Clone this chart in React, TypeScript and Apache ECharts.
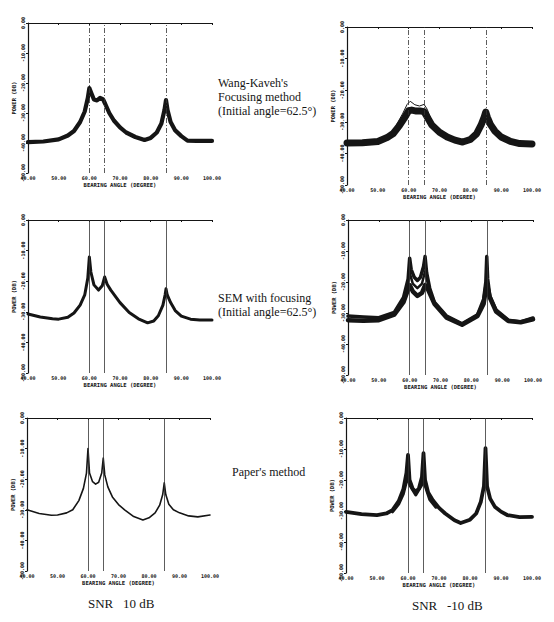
import React, { useEffect, useRef } from "react";
import * as echarts from "echarts";

// Source bearings (degrees) shown as vertical reference lines
const sourceAngles = [60, 65, 85];
const angleMin = 40;
const angleMax = 100;
const powerMin = -50;
const powerMax = 0;

// Wang-Kaveh's focusing method, SNR 10 dB
const wangKaveh10: [number, number][] = [
  [40, -39.7], [45, -39.5], [50, -38.8], [53, -37.5], [55, -36], [57, -33], [58.5, -29.5],
  [59.5, -25], [60, -21.7], [60.7, -23.5], [61.5, -25.5], [62.5, -25.8], [63.5, -25],
  [64.5, -25.5], [65.2, -27], [66.5, -30], [68, -32.5], [70, -34.8], [72, -36.5], [75, -38],
  [78, -39], [80, -38.3], [82, -36.5], [83.5, -33.5], [84.5, -29], [85, -25.7], [85.5, -29],
  [86.5, -33], [88, -35.8], [90, -37.7], [92, -39.2], [95, -39.3], [100, -39.3],
];

// Wang-Kaveh's focusing method, SNR -10 dB (bundle centre and an outlier run)
const wangKavehM10: [number, number][] = [
  [40, -36.7], [45, -36.6], [50, -36.2], [53, -35], [55, -33.7], [57, -31.2], [58.5, -29],
  [60, -26.5], [61, -26.3], [62.5, -26.6], [64, -26.6], [65, -26.8], [66, -28.5], [67.5, -31],
  [70, -33.3], [72.5, -34.8], [75, -35.8], [77.5, -36.4], [80, -35.6], [82, -33.8],
  [83.5, -31], [84.5, -28.5], [85, -26.9], [85.5, -28.5], [86.5, -30.8], [88, -33], [90, -34.8],
  [93, -36.2], [96, -36.9], [100, -37],
];
const wangKavehM10Outlier: [number, number][] = [
  [56, -31], [58, -27.5], [59.5, -24.5], [60.5, -23.5], [62, -24.6], [63.5, -25], [65, -24.5],
  [66, -26], [67, -28.5], [68.5, -31.5],
];

// SEM with focusing, SNR 10 dB
const sem10: [number, number][] = [
  [40, -30.7], [44, -31.7], [48, -32.3], [50, -32.4], [53, -31.8], [55, -30.4], [57, -27.8],
  [58.5, -24.5], [59.5, -19], [60, -12.1], [60.5, -17], [61.5, -21.2], [63, -22.9],
  [64.2, -21.5], [65, -18.6], [65.8, -21], [67, -22.9], [70, -27], [73, -30.2], [76, -32.3],
  [79, -33.6], [81, -33], [82.5, -31.3], [84, -27.8], [84.7, -24.5], [85, -22.5], [85.4, -24.5],
  [86.5, -27], [88, -29.6], [90, -31.4], [93, -32.4], [96, -32.7], [100, -32.7],
];

// SEM with focusing, SNR -10 dB (sharp-peaked runs and flat runs)
const semM10High: [number, number][] = [
  [40, -31], [45, -31.3], [50, -31.5], [55, -29.8], [58, -25], [59.5, -19], [60, -12.3],
  [60.5, -16], [61.5, -18.5], [62.5, -19.5], [63.5, -18.5], [64.5, -15], [65, -11.8],
  [65.5, -17], [66.5, -22], [68, -26.5], [72, -31], [77, -33.5], [82, -30.6], [84, -25.5],
  [84.7, -20], [85, -11.8], [85.3, -19], [86, -24.5], [88, -29], [92, -32.3], [96, -32.9],
  [100, -31.6],
];
const semM10Low: [number, number][] = [
  [40, -32.3], [45, -32.5], [50, -32.3], [55, -30.5], [58, -26.5], [60, -21], [61, -23],
  [62.5, -24.5], [64, -23.5], [65, -21], [66, -22.5], [68, -27], [72, -31.5], [77, -33.8],
  [82, -31], [84, -27], [85, -20.5], [86, -25], [88, -29.5], [92, -32.6], [96, -33], [100, -32],
];
const semM10Mid: [number, number][] = [
  [57, -27.5], [59, -22.5], [60, -17], [61, -20.5], [62.5, -22], [64, -20.5], [65, -16.5],
  [66, -21], [67.5, -25.5],
];

// Paper's method, SNR 10 dB
const paper10: [number, number][] = [
  [40, -30], [44, -31.2], [48, -31.8], [50, -31.7], [53, -31], [55, -30], [57, -27],
  [58.5, -23], [59.5, -18], [60, -10], [60.5, -18], [61.5, -20.8], [62.5, -21.6], [63.5, -21],
  [64.5, -18], [65, -13.1], [65.5, -18.6], [66.5, -22.5], [68, -25.8], [70, -28.3], [72, -30],
  [75, -32.2], [78, -33.3], [80, -32.6], [82, -31], [83.5, -28.5], [84.5, -25], [85, -21.2],
  [85.5, -25], [86.5, -28.2], [88, -30], [90, -31], [93, -32], [96, -32.3], [100, -31.7],
];

// Paper's method, SNR -10 dB
const paperM10: [number, number][] = [
  [40, -30.3], [45, -31], [50, -31.3], [53, -30.8], [55, -29.7], [57, -26.8], [58.5, -23],
  [59.5, -17.7], [60, -11.9], [60.5, -20], [61.5, -22.8], [62.5, -23.8], [63.5, -22.8],
  [64.5, -19], [65, -11.3], [65.5, -20], [66.5, -24], [68, -26.5], [70, -29], [72, -30.8],
  [75, -33], [77, -33.9], [80, -32.8], [82, -30.8], [83.5, -27], [84.5, -22], [85, -9.7],
  [85.5, -22], [86.5, -26], [88, -28.6], [90, -30.2], [92, -31.3], [96, -32], [100, -31.9],
];
const paperM10Low: [number, number][] = [
  [55, -30.3], [57, -27.8], [58.5, -24.5], [59.5, -20.5], [60, -17.5], [60.5, -21.5],
  [62.5, -24.8], [64.5, -21.5], [65, -17], [65.5, -21.8], [67, -26.3], [69, -28.8],
];

const INK = "#151515";

type Panel = {
  left: number; top: number; width: number; height: number;
  dashed: boolean;
  lines: { data: [number, number][]; width: number }[];
};

const panels: Panel[] = [
  { left: 28, top: 23, width: 184, height: 150, dashed: true, lines: [{ data: wangKaveh10, width: 4.2 }] },
  { left: 347, top: 27, width: 185, height: 158, dashed: true, lines: [{ data: wangKavehM10, width: 7 }, { data: wangKavehM10Outlier, width: 1 }] },
  { left: 28, top: 220, width: 184, height: 153, dashed: false, lines: [{ data: sem10, width: 3 }] },
  { left: 348, top: 220, width: 185, height: 155, dashed: false, lines: [{ data: semM10Low, width: 4.5 }, { data: semM10High, width: 3.5 }, { data: semM10Mid, width: 2.5 }] },
  { left: 27, top: 418, width: 183, height: 153, dashed: false, lines: [{ data: paper10, width: 1.6 }] },
  { left: 346, top: 418, width: 186, height: 155, dashed: false, lines: [{ data: paperM10, width: 3.8 }, { data: paperM10Low, width: 3 }] },
];

const tickFont = { fontSize: 5, fontWeight: "bold" as const, fontFamily: "DejaVu Sans Mono", color: INK };

export default function App() {
  const ref = useRef<HTMLDivElement>(null);
  useEffect(() => {
    if (!ref.current) return;
    const chart = echarts.init(ref.current, null, { renderer: "svg" });

    const grids = panels.map((p) => ({ left: p.left, top: p.top, width: p.width, height: p.height }));
    const xAxes = panels.map((_, i) => ({
      type: "value" as const,
      gridIndex: i,
      min: angleMin,
      max: angleMax,
      interval: 10,
      name: "BEARING ANGLE (DEGREE)",
      nameLocation: "middle" as const,
      nameGap: 9,
      nameTextStyle: { fontSize: 5.5, fontWeight: "bold" as const, fontFamily: "DejaVu Sans Mono", color: INK },
      axisLine: { show: true, lineStyle: { color: INK, width: 1.2 } },
      axisTick: { show: true, length: 2, lineStyle: { color: INK } },
      axisLabel: { ...tickFont, margin: 2, formatter: (v: number) => v.toFixed(2) },
      splitLine: { show: false },
    }));
    const yAxes = panels.map((_, i) => ({
      type: "value" as const,
      gridIndex: i,
      min: powerMin,
      max: powerMax,
      interval: 10,
      name: "POWER (DB)",
      nameLocation: "middle" as const,
      nameRotate: 90,
      nameGap: 11,
      nameTextStyle: { fontSize: 5.5, fontWeight: "bold" as const, fontFamily: "DejaVu Sans Mono", color: INK },
      axisLine: { show: true, lineStyle: { color: INK, width: 1.2 } },
      axisTick: { show: true, length: 2, lineStyle: { color: INK } },
      axisLabel: { ...tickFont, margin: 3, rotate: 90, formatter: (v: number) => v.toFixed(2) },
      splitLine: { show: false },
    }));

    const series: any[] = [];
    panels.forEach((p, i) => {
      p.lines.forEach((l, j) => {
        series.push({
          type: "line",
          xAxisIndex: i,
          yAxisIndex: i,
          data: l.data,
          symbol: "none",
          showSymbol: false,
          smooth: false,
          lineStyle: { color: INK, width: l.width, join: "round", cap: "round" },
          silent: true,
          markLine: j === 0 ? {
            silent: true,
            symbol: "none",
            label: { show: false },
            lineStyle: { color: "#333", width: 0.8, type: p.dashed ? [5, 2, 1, 2] : "solid" },
            data: sourceAngles.map((a) => ({ xAxis: a })),
          } : undefined,
        });
      });
    });

    const serif = "Liberation Serif, Times New Roman, serif";
    const txt = (x: number, y: number, text: string, size = 12) => ({
      type: "text" as const,
      left: x,
      top: y,
      style: { text, fontSize: size, fontFamily: serif, fill: INK },
    });

    chart.setOption({
      animation: false,
      backgroundColor: "#ffffff",
      grid: grids,
      xAxis: xAxes,
      yAxis: yAxes,
      series,
      graphic: [
        txt(218, 77, "Wang-Kaveh's"),
        txt(218, 91, "Focusing method"),
        txt(218, 105, "(Initial angle=62.5°)"),
        txt(218, 292, "SEM with focusing"),
        txt(218, 306, "(Initial angle=62.5°)"),
        txt(232, 466, "Paper's method"),
        txt(88, 597, "SNR   10 dB", 13),
        txt(412, 599, "SNR   -10 dB", 13),
      ],
    });
    return () => chart.dispose();
  }, []);
  return (
    <div
      ref={ref}
      style={{ position: "absolute", left: 0, top: 0, width: 554, height: 622, background: "#fff" }}
    />
  );
}
